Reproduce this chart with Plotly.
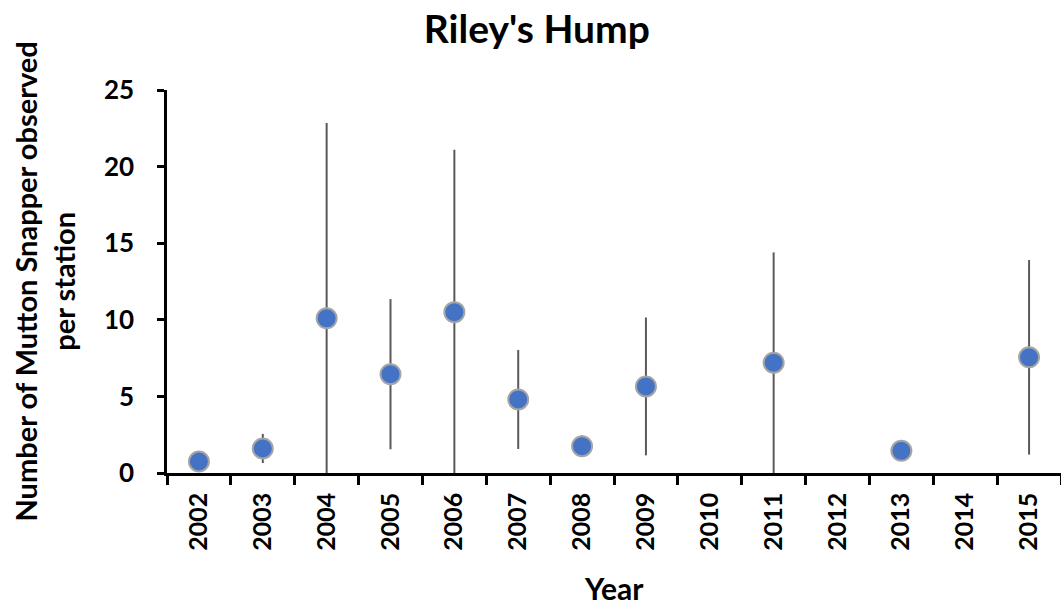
import plotly.graph_objects as go

# Mean count per station and its standard deviation, by survey year
years = ["2002", "2003", "2004", "2005", "2006", "2007", "2008",
         "2009", "2010", "2011", "2012", "2013", "2014", "2015"]
mean_count = [0.75, 1.6, 10.1, 6.45, 10.5, 4.8, 1.75,
              5.65, None, 7.2, None, 1.45, None, 7.55]
std_dev = [0.0, 0.95, 12.75, 4.9, 10.6, 3.23, 0.7,
           4.5, None, 7.2, None, 0.0, None, 6.35]

FONT = "Lato"

fig = go.Figure()
fig.add_trace(go.Scatter(
    x=years,
    y=mean_count,
    mode="markers",
    marker=dict(size=20, color="#4472C4",
                line=dict(color="#A5A5A5", width=2)),
    error_y=dict(type="data", array=std_dev, visible=True,
                 color="#595959", thickness=2, width=0),
    showlegend=False,
))

fig.update_layout(
    width=1061, height=607,
    margin=dict(l=167, r=0, t=90, b=134),
    paper_bgcolor="white", plot_bgcolor="white",
    font=dict(family=FONT, color="black"),
    title=dict(text="<b>Riley's Hump</b>", x=0.506, xref="container",
               xanchor="center", y=0.952, yanchor="middle",
               font=dict(family=FONT, size=39, color="black")),
)

fig.update_xaxes(
    type="category", categoryorder="array", categoryarray=years,
    range=[-0.5, len(years) - 0.5],
    showline=True, linecolor="black", linewidth=2.5,
    showgrid=False, zeroline=False,
    ticks="outside", tickson="boundaries", ticklen=9, tickwidth=2.5,
    tickcolor="black", tickangle=-90, ticklabelstandoff=7,
    tickfont=dict(family=FONT, size=25, weight="bold", color="black"),
)
fig.update_yaxes(
    range=[0, 25], dtick=5,
    showline=True, linecolor="black", linewidth=2.5,
    showgrid=False, zeroline=False,
    ticks="outside", ticklen=7, tickwidth=2.5, tickcolor="black",
    ticklabelstandoff=18,
    tickfont=dict(family=FONT, size=26, weight="bold", color="black"),
)

fig.add_annotation(
    text="<b>Number of Mutton Snapper observed<br>per station</b>",
    xref="paper", yref="paper", x=-0.1365, y=0.5,
    xanchor="center", yanchor="middle", textangle=-90, showarrow=False,
    font=dict(family=FONT, size=29, color="black"),
)
fig.add_annotation(
    text="<b>Year</b>",
    xref="paper", yref="paper", x=0.5, y=-0.30,
    xanchor="center", yanchor="middle", showarrow=False,
    font=dict(family=FONT, size=30, color="black"),
)

fig.write_html("out.html")
